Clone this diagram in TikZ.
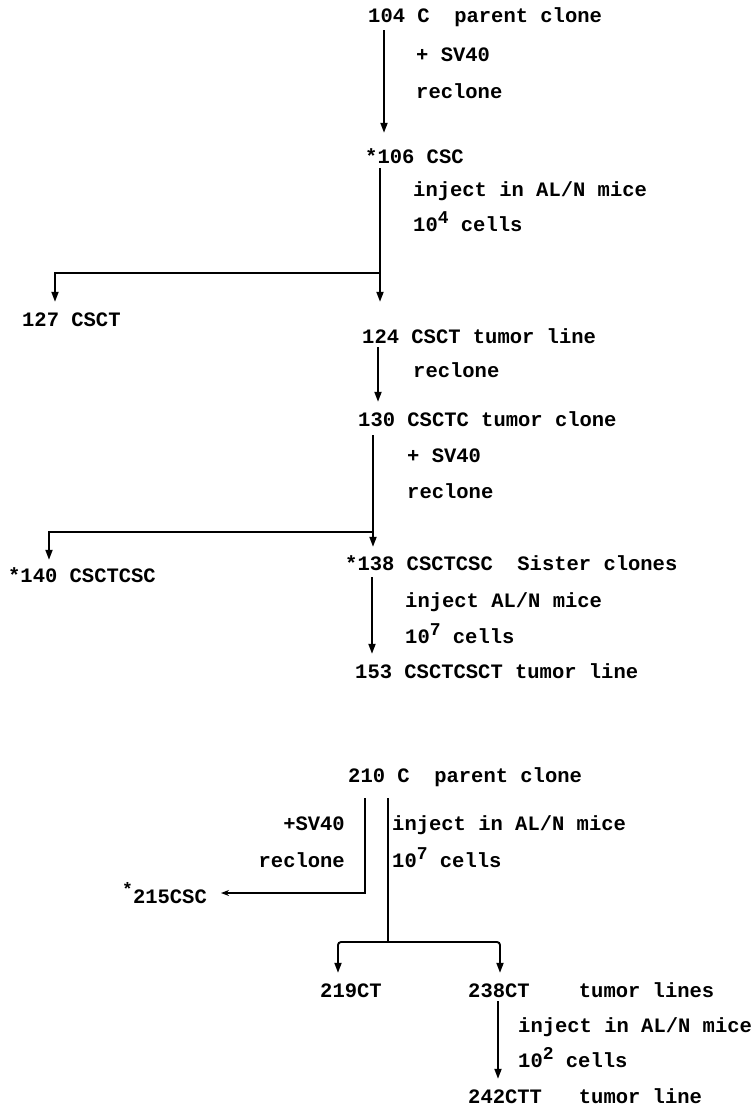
\documentclass[tikz,border=0pt]{standalone}
\usepackage{fontspec}
\setmonofont{Liberation Mono}
\usetikzlibrary{arrows.meta,calc}
\tikzset{
  every picture/.style={>={Triangle[length=10pt,width=7pt]}},
  txt/.style={anchor=base west, inner xsep=0pt, inner ysep=0pt,
    text height=12pt, text depth=4pt,
    font=\fontsize{20.5}{24}\selectfont\ttfamily\bfseries},
  flow/.style={->, line width=1.9pt, shorten >=12pt},
  trunk/.style={line width=1.9pt},
}
\newcommand{\pw}[1]{\raisebox{8pt}{\fontsize{18}{18}\selectfont #1}}

\begin{document}
\begin{tikzpicture}[x=1pt,y=-1pt]
  \useasboundingbox (0,0) rectangle (752,1108);
  % first series
  \node[txt] (n104) at (368,23) {104 C\ \ parent clone};
  \node[txt] (sv1) at (416,62) {+ SV40};
  \node[txt] (rc1) at (416,98) {reclone};
  \node[txt] (n106) at (365,163) {*106 CSC};
  \node[txt] (inj1) at (413,196) {inject in AL/N mice};
  \node[txt] (cl1) at (413,231) {10\pw{4} cells};
  \node[txt] (n127) at (22,326) {127 CSCT};
  \node[txt] (n124) at (362,343) {124 CSCT tumor line};
  \node[txt] (rc2) at (413,377) {reclone};
  \node[txt] (n130) at (358,426) {130 CSCTC tumor clone};
  \node[txt] (sv2) at (407,462) {+ SV40};
  \node[txt] (rc3) at (407,498) {reclone};
  \node[txt] (n140) at (8,582) {*140 CSCTCSC};
  \node[txt] (n138) at (345,570) {*138 CSCTCSC\ \ Sister clones};
  \node[txt] (inj2) at (405,607) {inject AL/N mice};
  \node[txt] (cl2) at (405,643) {10\pw{7} cells};
  \node[txt] (n153) at (355,678) {153 CSCTCSCT tumor line};

  \coordinate (a1) at (384,0);
  \coordinate (j1) at (380,273);
  \coordinate (k127) at (55,0);
  \coordinate (a3) at (378,0);
  \coordinate (j2) at (373,532);
  \coordinate (k140) at (49,0);
  \coordinate (a5) at (372,0);

  \draw[flow, shorten <=3pt, shorten >=18pt] (n104.south -| a1) -- (n106.north -| a1);
  \draw[flow, shorten <=1pt, shorten >=29pt] (n106.south -| j1) -- (n124.north -| j1);
  \draw[flow] (j1) -| (n127.north -| k127);
  \draw[flow] (n124.south -| a3) -- (n130.north -| a3);
  \draw[flow, shorten <=5pt, shorten >=11pt] (n130.south -| j2) -- (n138.north -| j2);
  \draw[flow, shorten >=10pt] (j2) -| (n140.north -| k140);
  \draw[flow, shorten <=3pt] (n138.south -| a5) -- (n153.north -| a5);

  % second series
  \node[txt] (n210) at (348,782) {210 C\ \ parent clone};
  \node[txt, anchor=base east] (sv3) at (345,830) {+SV40};
  \node[txt, anchor=base east] (rc4) at (345,867) {reclone};
  \node[txt] (inj3) at (392,830) {inject in AL/N mice};
  \node[txt] (cl3) at (392,867) {10\pw{7} cells};
  \node[txt] (n215) at (122,903) {\pw{*}215CSC};
  \node[txt] (n219) at (320,997) {219CT};
  \node[txt] (n238) at (468,997) {238CT\ \ \ \ tumor lines};
  \node[txt] (inj4) at (518,1032) {inject in AL/N mice};
  \node[txt] (cl4) at (518,1067) {10\pw{2} cells};
  \node[txt] (n242) at (468,1103) {242CTT\ \ \ tumor line};

  \coordinate (b1) at (365,0);
  \coordinate (j3) at (388,942);
  \coordinate (k219) at (338,0);
  \coordinate (k238) at (500,0);
  \coordinate (a6) at (498,0);

  \draw[flow, shorten <=12pt, shorten >=14pt, >={Stealth[length=8pt,width=6pt]}]
    (n210.south -| b1) |- ([yshift=6pt]n215.east);
  \draw[trunk, shorten <=12pt] (n210.south -| j3) -- (j3);
  \draw[flow, rounded corners=3pt] (j3) -| (n219.north -| k219);
  \draw[flow, rounded corners=3pt] (j3) -| (n238.north -| k238);
  \draw[flow] (n238.south -| a6) -- (n242.north -| a6);
\end{tikzpicture}
\end{document}
